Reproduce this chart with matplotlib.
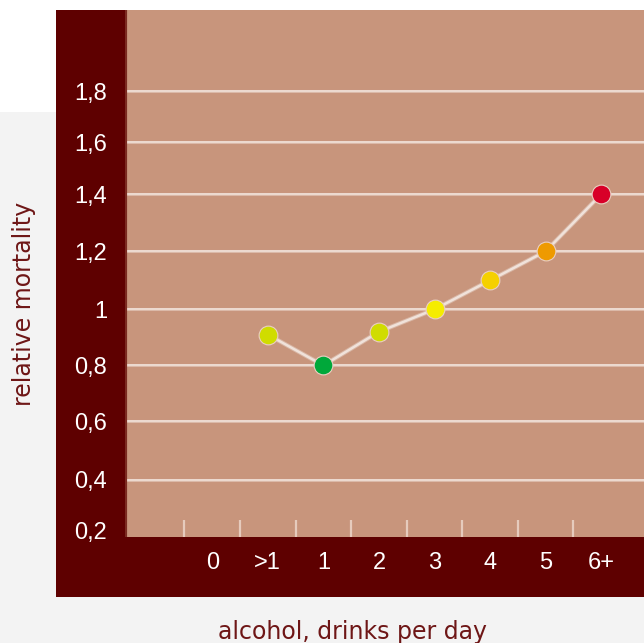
import numpy as np
import matplotlib
matplotlib.use("Agg")
import matplotlib.pyplot as plt
from matplotlib.patches import Rectangle

# data
categories = ["0", ">1", "1", "2", "3", "4", "5", "6+"]
mortality = [np.nan, 0.91, 0.80, 0.92, 1.00, 1.10, 1.20, 1.40]
dot_colors = ["none", "#d0dc00", "#00a83a", "#d0dc00", "#f5ec00", "#f5d000", "#ee9a00", "#d80028"]
y_ticks = [0.2, 0.4, 0.6, 0.8, 1.0, 1.2, 1.4, 1.6, 1.8]
y_labels = ["0,2", "0,4", "0,6", "0,8", "1", "1,2", "1,4", "1,6", "1,8"]

# the original axis is not quite evenly spaced -> piecewise scale
knot_vals = [0.0, 0.2, 0.4, 0.6, 0.8, 1.0, 1.2, 1.4, 1.6, 1.8, 2.2]
knot_pix = [-44, 7, 58, 116, 172, 228, 286, 343, 395, 446, 546]

def fwd(v):
    return np.interp(v, knot_vals, knot_pix)

def inv(p):
    return np.interp(p, knot_pix, knot_vals)

W, H = 644, 643
fig = plt.figure(figsize=(W / 100, H / 100), dpi=100, facecolor="#f3f3f3")

# background pieces
fig.patches.append(Rectangle((0, 1 - 10 / H), 1, 10 / H, transform=fig.transFigure,
                             facecolor="white", edgecolor="none", zorder=-3))
fig.patches.append(Rectangle((0, 1 - 112 / H), 56 / W, 112 / H, transform=fig.transFigure,
                             facecolor="white", edgecolor="none", zorder=-3))
fig.patches.append(Rectangle((56 / W, 46 / H), 588 / W, 587 / H, transform=fig.transFigure,
                             facecolor="#5e0000", edgecolor="none", zorder=-2))

ax = fig.add_axes([125 / W, (H - 537) / H, (W - 125) / W, 527 / H])
ax.set_zorder(1)
ax.set_facecolor("#c8957c")
ax.set_yscale("function", functions=(fwd, inv))
ax.set_ylim(0.175, 2.124)
ax.set_xlim(-1.57, 7.77)

for v in y_ticks[1:]:
    ax.axhline(v, color="#e9d2c7", lw=2.2, alpha=0.6, zorder=1)
    ax.axhline(v, color="#f0e0d8", lw=1.2, zorder=1)

x = np.arange(len(categories))
ax.plot(x, mortality, color="#e8d6cc", lw=3.2, alpha=0.5, zorder=2)
ax.plot(x, mortality, color="#f0e2da", lw=1.8, zorder=2)
for i in range(len(categories)):
    if np.isnan(mortality[i]):
        continue
    ax.plot(x[i], mortality[i], "o", ms=13.5, color=dot_colors[i],
            mec="#e9cfc2", mew=0.8, zorder=3)

ax.set_xticks(x)
ax.set_xticklabels(categories)
ax.set_xticks(x - 0.5, minor=True)
ax.tick_params(axis="x", which="major", length=0, pad=10.5, labelsize=17, labelcolor="white")
ax.tick_params(axis="x", which="minor", direction="in", length=12, width=1.6, color="#e6cbbd")
ax.set_yticks(y_ticks)
ax.set_yticklabels(y_labels)
ax.yaxis.set_minor_locator(matplotlib.ticker.NullLocator())
ax.tick_params(axis="y", length=0, pad=13, labelsize=17, labelcolor="white")
for lab in ax.get_xticklabels() + ax.get_yticklabels():
    lab.set_fontfamily("Liberation Sans")

for s in ax.spines.values():
    s.set_visible(False)
# soft shadow on the left edge
ax.axvline(-1.57, color="#7a2a20", lw=3, zorder=4)

fig.text(24 / W, 1 - 304 / H, "relative mortality", rotation=90, ha="center", va="center",
         fontsize=17, color="#6e1616", family="DejaVu Sans")
fig.text(352 / W, 1 - 638.5 / H, "alcohol, drinks per day", ha="center", va="baseline",
         fontsize=17, color="#6e1616", family="DejaVu Sans")

fig.savefig("out.png", dpi=100, facecolor=fig.get_facecolor())
